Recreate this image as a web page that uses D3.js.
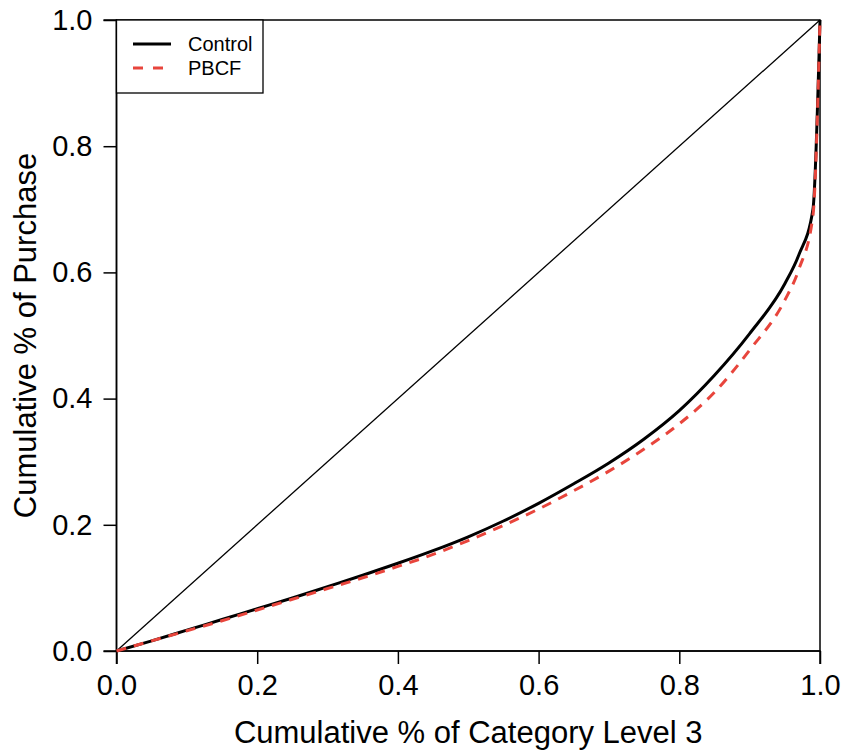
<!DOCTYPE html>
<html>
<head>
<meta charset="utf-8">
<script src="https://cdn.jsdelivr.net/npm/d3@7"></script>
<style>
  html, body { margin: 0; padding: 0; background: #fff; }
  svg { display: block; }
  text { font-family: "Liberation Sans", Arial, Helvetica, sans-serif; fill: #000; }
</style>
</head>
<body>
<svg id="chart" width="845" height="751"></svg>
<script>
// ---- data ----
const xShare = [0, 0.05, 0.1, 0.15, 0.2, 0.25, 0.3, 0.35, 0.4, 0.45, 0.5, 0.55, 0.6, 0.65, 0.7, 0.75, 0.8, 0.85, 0.9, 0.95, 0.97, 0.99, 1.0];
const controlValues = [0, 0.016, 0.033, 0.050, 0.067, 0.084, 0.102, 0.120, 0.139, 0.159, 0.181, 0.206, 0.234, 0.265, 0.298, 0.336, 0.381, 0.437, 0.503, 0.582, 0.628, 0.700, 1.0];
const pbcfValues    = [0, 0.016, 0.032, 0.048, 0.065, 0.082, 0.099, 0.116, 0.134, 0.153, 0.175, 0.199, 0.225, 0.254, 0.285, 0.320, 0.360, 0.410, 0.477, 0.556, 0.605, 0.690, 1.0];
const tickValues = [0, 0.2, 0.4, 0.6, 0.8, 1.0];
const tickLabels = ["0.0", "0.2", "0.4", "0.6", "0.8", "1.0"];
const seriesNames = ["Control", "PBCF"];
const xTitle = "Cumulative % of Category Level 3";
const yTitle = "Cumulative % of Purchase";

// ---- layout ----
const svg = d3.select("#chart");
const pLeft = 116.5, pRight = 820, pTop = 20, pBottom = 651;
const x = d3.scaleLinear().domain([0, 1]).range([pLeft, pRight]);
const y = d3.scaleLinear().domain([0, 1]).range([pBottom, pTop]);

// box
svg.append("rect")
  .attr("x", pLeft).attr("y", pTop)
  .attr("width", pRight - pLeft).attr("height", pBottom - pTop)
  .attr("fill", "none").attr("stroke", "#000").attr("stroke-width", 1.5);

// axes
const fmt = (d) => tickLabels[tickValues.indexOf(d)];
const xAxis = svg.append("g").attr("transform", `translate(0,${pBottom})`)
  .call(d3.axisBottom(x).tickValues(tickValues).tickFormat(fmt).tickSize(13).tickPadding(10));
const yAxis = svg.append("g").attr("transform", `translate(${pLeft},0)`)
  .call(d3.axisLeft(y).tickValues(tickValues).tickFormat(fmt).tickSize(13).tickPadding(11));
[xAxis, yAxis].forEach(g => {
  g.select(".domain").attr("stroke", "#000").attr("stroke-width", 1.5);
  g.selectAll(".tick line").attr("stroke", "#000").attr("stroke-width", 1.5);
  g.selectAll(".tick text")
    .style("font-family", '"Liberation Sans", Arial, sans-serif')
    .style("font-size", "29px").attr("fill", "#000");
});
xAxis.select(".domain").attr("d", `M${pLeft},13V0H${pRight}V13`);
yAxis.select(".domain").attr("d", `M-13,${pTop}H0V${pBottom}H-13`);

// axis titles
svg.append("text")
  .attr("x", (pLeft + pRight) / 2).attr("y", 743)
  .attr("text-anchor", "middle").style("font-size", "31px")
  .text(xTitle);
svg.append("text")
  .attr("transform", `translate(36,${(pTop + pBottom) / 2}) rotate(-90)`)
  .attr("text-anchor", "middle").style("font-size", "31px")
  .text(yTitle);

// equality line
svg.append("line")
  .attr("x1", x(0)).attr("y1", y(0)).attr("x2", x(1)).attr("y2", y(1))
  .attr("stroke", "#000").attr("stroke-width", 1.3);

// curves
const line = (vals) => d3.line()
  .x((d, i) => x(xShare[i]))
  .y(d => y(d))
  .curve(d3.curveMonotoneX)(vals);

svg.append("path")
  .attr("d", line(controlValues))
  .attr("fill", "none").attr("stroke", "#000").attr("stroke-width", 3);
svg.append("path")
  .attr("d", line(pbcfValues))
  .attr("fill", "none").attr("stroke", "#e8453c").attr("stroke-width", 3)
  .attr("stroke-dasharray", "10,8");

// legend
const lg = svg.append("g");
lg.append("rect")
  .attr("x", pLeft).attr("y", pTop).attr("width", 263 - pLeft).attr("height", 93 - pTop)
  .attr("fill", "#fff").attr("stroke", "#000").attr("stroke-width", 1.3);
const legendStyles = [
  { stroke: "#000", dash: null },
  { stroke: "#e8453c", dash: "10,10" }
];
seriesNames.forEach((name, i) => {
  const ly = 44 + i * 24;
  lg.append("line")
    .attr("x1", 133).attr("x2", 171).attr("y1", ly).attr("y2", ly)
    .attr("stroke", legendStyles[i].stroke).attr("stroke-width", 3)
    .attr("stroke-dasharray", legendStyles[i].dash);
  lg.append("text")
    .attr("x", 188).attr("y", ly + 7)
    .style("font-size", "20px")
    .text(name);
});
</script>
</body>
</html>
